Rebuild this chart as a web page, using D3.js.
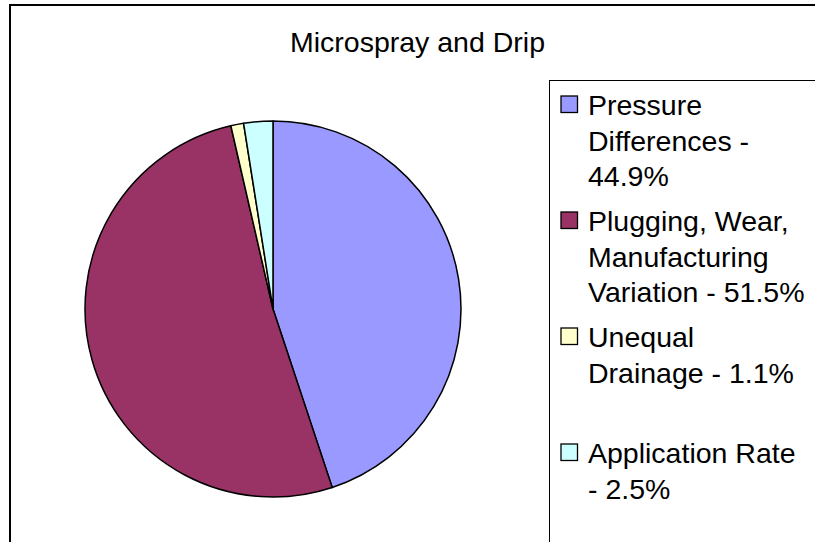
<!DOCTYPE html>
<html><head><meta charset="utf-8">
<script src="https://cdn.jsdelivr.net/npm/d3@7"></script>
<style>html,body{margin:0;padding:0;background:#fff;overflow:hidden}</style>
</head><body>
<svg id="chart" width="815" height="542"></svg>
<script>
const title = "Microspray and Drip";
const categories = ["Pressure Differences", "Plugging, Wear, Manufacturing Variation", "Unequal Drainage", "Application Rate"];
const values = [44.9, 51.5, 1.1, 2.5];
const colors = ["#9999FF", "#993366", "#FFFFCC", "#CCFFFF"];
const legendLines = [
  ["Pressure", "Differences -", "44.9%"],
  ["Plugging, Wear,", "Manufacturing", "Variation - 51.5%"],
  ["Unequal", "Drainage - 1.1%"],
  ["Application Rate", "- 2.5%"]
];

const svg = d3.select("#chart");
const font = "'Liberation Sans', Arial, sans-serif";

// outer chart border
svg.append("rect").attr("x", 10).attr("y", 5).attr("width", 900).attr("height", 700)
  .attr("fill", "#fff").attr("stroke", "#000").attr("stroke-width", 2);

// title
svg.append("text").attr("x", 417.5).attr("y", 52).attr("text-anchor", "middle")
  .attr("font-family", font).attr("font-size", 28.5).attr("fill", "#000").text(title);

// pie
const cx = 273, cy = 309, r = 188;
const pie = d3.pie().sort(null).value(d => d)(values);
const arc = d3.arc().innerRadius(0).outerRadius(r);
const g = svg.append("g").attr("transform", `translate(${cx},${cy})`);
g.selectAll("path").data(pie).join("path")
  .attr("d", arc)
  .attr("fill", (d, i) => colors[i])
  .attr("stroke", "#000").attr("stroke-width", 1.5).attr("stroke-linejoin", "round");

// legend
svg.append("rect").attr("x", 549.5).attr("y", 80.5).attr("width", 400).attr("height", 600)
  .attr("fill", "#fff").attr("stroke", "#000").attr("stroke-width", 1);
const entryY = d3.scaleLinear().domain([0, 3]).range([115, 463]);
const lg = svg.append("g");
categories.forEach((c, i) => {
  const y0 = entryY(i);
  lg.append("rect").attr("x", 561).attr("y", y0 - 19).attr("width", 16.5).attr("height", 16.5)
    .attr("fill", colors[i]).attr("stroke", "#000").attr("stroke-width", 1.3);
  const t = lg.append("text").attr("font-family", font).attr("font-size", 28.5).attr("fill", "#000");
  legendLines[i].forEach((line, j) => {
    t.append("tspan").attr("x", 588).attr("y", y0 + j * 35.7).text(line);
  });
});
</script>
</body></html>
